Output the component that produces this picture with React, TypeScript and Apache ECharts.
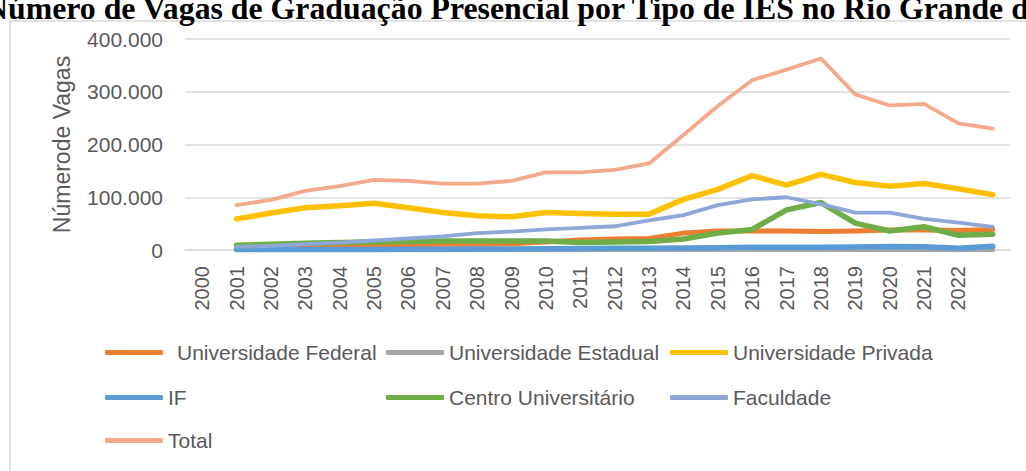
import React, { useEffect, useRef } from "react";
import * as echarts from "echarts";

const years = [
  "2000", "2001", "2002", "2003", "2004", "2005", "2006", "2007", "2008", "2009", "2010", "2011",
  "2012", "2013", "2014", "2015", "2016", "2017", "2018", "2019", "2020", "2021", "2022", "",
];

const federal = [null, 8000, 8000, 8000, 9000, 10000, 10000, 11000, 11000, 12000, 15000, 19000, 21000, 22000, 32000, 36000, 36000, 36000, 35000, 36000, 38000, 38000, 37000, 39000];
const estadual = [null, 300, 300, 300, 400, 400, 500, 500, 600, 600, 700, 700, 800, 800, 900, 900, 1000, 1000, 1000, 1000, 1000, 800, 700, 500];
const privada = [null, 59000, 70000, 80000, 84000, 88500, 80000, 71000, 65000, 63000, 71000, 69000, 68000, 68000, 96000, 115000, 141000, 123000, 143500, 128000, 121000, 126000, 116000, 105000];
const instFederal = [null, 1000, 1000, 1000, 1000, 1000, 1500, 1500, 2000, 2000, 2500, 3000, 3500, 3500, 4000, 4500, 5000, 5000, 5000, 5500, 6500, 6000, 3500, 7000];
const centro = [null, 9000, 11000, 13000, 14000, 15000, 16000, 17000, 17000, 17000, 17000, 14000, 15000, 16000, 21000, 32000, 39000, 76000, 90000, 51000, 36000, 44000, 28000, 30000];
const faculdade = [null, 6000, 8000, 11000, 14000, 18000, 22000, 26000, 32000, 35000, 39000, 42000, 45000, 56000, 66000, 85000, 96000, 100000, 87000, 71000, 71000, 59000, 52000, 44000];
const total = [null, 85000, 95000, 112000, 121000, 133000, 131000, 126000, 126000, 131000, 147000, 147000, 152000, 164000, 218000, 273000, 322000, 342000, 363000, 295000, 274000, 277000, 240000, 230000];

const seriesNames = [
  "Universidade Federal",
  "Universidade Estadual",
  "Universidade Privada",
  "IF",
  "Centro Universitário",
  "Faculdade",
  "Total",
];
const seriesData = [federal, estadual, privada, instFederal, centro, faculdade, total];
const seriesColors = ["#ED7D31", "#A5A5A5", "#FFC000", "#5B9BD5", "#70AD47", "#8FA6D9", "#F3A98C"];
const seriesWidths = [5, 5, 5.5, 5.5, 5.5, 3.8, 3.8];

const titleText = "Número de Vagas de Graduação Presencial por Tipo de IES no Rio Grande do Sul";
const yAxisName = "Númerode Vagas";

// legend layout: left x of the line sample, row centre y, extra text indent
const legendLayout = [
  [105, 354, 9], [386, 354, 0], [670, 354, 0],
  [105, 399, 0], [386, 399, 0], [670, 399, 0],
  [105, 442, 0],
];

const fmt = (v: number) => String(v).replace(/\B(?=(\d{3})+(?!\d))/g, ".");

const GRAY = "#595959";
const FONT = "'Liberation Sans', Arial, sans-serif";

export default function App() {
  const ref = useRef<HTMLDivElement>(null);
  useEffect(() => {
    const chart = echarts.init(ref.current!, null, { renderer: "svg" });
    const option: any = {
      animation: false,
      backgroundColor: "#ffffff",
      grid: { left: 185, right: 16, top: 39, bottom: 221, containLabel: false },
      graphic: [
        {
          type: "rect",
          z: -10,
          shape: { x: 10, y: 21, width: 1060, height: 480 },
          style: { fill: "none", stroke: "#d9d9d9", lineWidth: 1.5 },
        },
        {
          type: "text",
          x: -15,
          y: 8,
          z: 10,
          style: {
            text: titleText,
            font: "bold 31.8px 'Liberation Serif', 'Times New Roman', serif",
            fill: "#000000",
            verticalAlign: "middle",
            align: "left",
          },
        },
      ],
      xAxis: {
        type: "category",
        data: years,
        boundaryGap: true,
        axisLine: { show: true, lineStyle: { color: "#d9d9d9", width: 1.5 } },
        axisTick: { show: false },
        axisLabel: {
          rotate: 90,
          interval: 0,
          color: GRAY,
          fontSize: 20,
          fontFamily: FONT,
          margin: 16,
        },
        splitLine: { show: false },
      },
      yAxis: {
        type: "value",
        min: 0,
        max: 400000,
        interval: 100000,
        axisLine: { show: false },
        axisTick: { show: false },
        splitLine: { lineStyle: { color: "#d9d9d9", width: 1.5 } },
        axisLabel: { formatter: (v: number) => fmt(v), color: GRAY, fontSize: 21, fontFamily: FONT, margin: 22 },
        name: yAxisName,
        nameLocation: "middle",
        nameGap: 112,
        nameTextStyle: { color: GRAY, fontSize: 23, fontFamily: FONT },
      },
      legend: seriesNames.map((n, i) => ({
        data: [n],
        left: legendLayout[i][0],
        top: legendLayout[i][1] - 12,
        icon: "roundRect",
        itemWidth: 58,
        itemHeight: 5,
        textStyle: { color: GRAY, fontSize: 21, fontFamily: FONT, padding: [0, 0, 0, legendLayout[i][2]] },
        padding: 0,
      })),
      series: seriesNames.map((n, i) => ({
        name: n,
        type: "line",
        data: seriesData[i],
        showSymbol: false,
        symbol: "none",
        smooth: false,
        connectNulls: false,
        color: seriesColors[i],
        lineStyle: { color: seriesColors[i], width: seriesWidths[i], cap: "round", join: "round" },
        z: 2 + i,
      })),
    };
    chart.setOption(option);
    return () => chart.dispose();
  }, []);
  return (
    <div
      ref={ref}
      style={{ position: "fixed", left: 0, top: 0, width: 1026, height: 471, background: "#fff" }}
    />
  );
}
